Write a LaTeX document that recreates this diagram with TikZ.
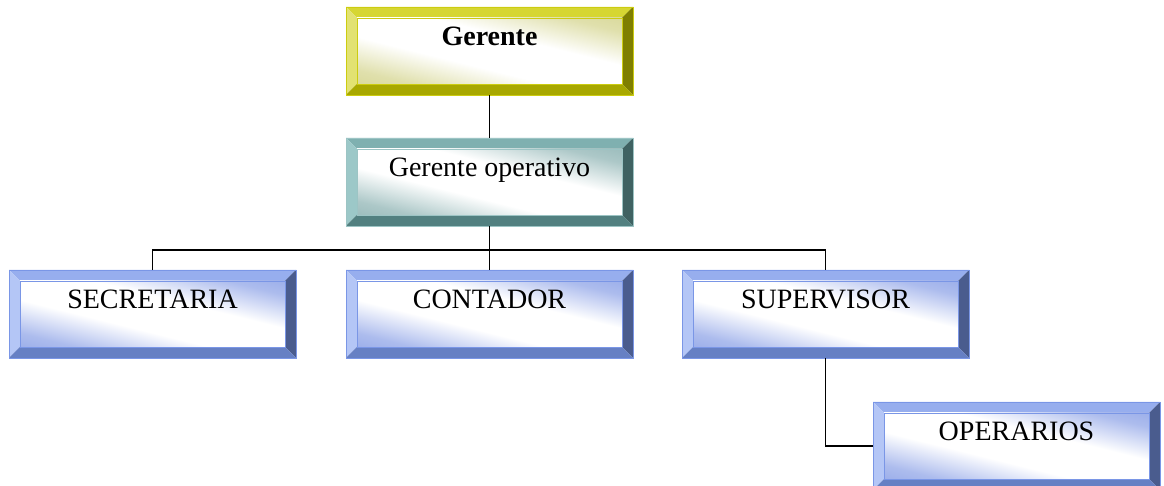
\documentclass[tikz,border=0pt]{standalone}
\usepackage{fontspec}
\setmainfont{Liberation Serif}
\usetikzlibrary{calc}
\definecolor{Ytop}{HTML}{D6D632}\definecolor{Yleft}{HTML}{E2E272}\definecolor{Yright}{HTML}{7F7F00}\definecolor{Ybottom}{HTML}{A8A800}\definecolor{Yface}{HTML}{CFCF80}\definecolor{Yline}{HTML}{CCCC10}
\definecolor{Ttop}{HTML}{7FB0B0}\definecolor{Tleft}{HTML}{9CC8C8}\definecolor{Tright}{HTML}{3F6262}\definecolor{Tbottom}{HTML}{528080}\definecolor{Tface}{HTML}{80AAAA}\definecolor{Tline}{HTML}{9CC4C4}
\definecolor{Btop}{HTML}{97AEEE}\definecolor{Bleft}{HTML}{B4C6F6}\definecolor{Bright}{HTML}{4A5C8E}\definecolor{Bbottom}{HTML}{6680C4}\definecolor{Bface}{HTML}{8098E4}\definecolor{Bline}{HTML}{7A96E6}
\colorlet{facetint}{Bface}
\pgfdeclareverticalshading[facetint]{bevface}{100bp}{color(0bp)=(facetint); color(22bp)=(facetint!65!white); color(40bp)=(white); color(60bp)=(white); color(78bp)=(facetint!65!white); color(100bp)=(facetint)}
\tikzset{
  boxshape/.style={rectangle, minimum width=287pt, minimum height=88pt, inner sep=0pt, outer sep=0pt, anchor=north west},
  conn/.style={line width=1.5pt, black},
  label/.style={anchor=base, inner sep=0pt, font=\fontsize{28}{32}\selectfont}
}
\newcommand\bevbox[6]{%
  \node[boxshape] (#1) at (#2,#3) {};
  \coordinate (a) at (#1.north west);
  \coordinate (b) at (#1.north east);
  \coordinate (c) at (#1.south east);
  \coordinate (d) at (#1.south west);
  \coordinate (ai) at ($(a)+(11,-11)$);
  \coordinate (bi) at ($(b)+(-11,-11)$);
  \coordinate (ci) at ($(c)+(-11,11)$);
  \coordinate (di) at ($(d)+(11,11)$);
  \fill[#5top] (a)--(b)--(bi)--(ai)--cycle;
  \fill[#5left] (a)--(ai)--(di)--(d)--cycle;
  \fill[#5right] (b)--(c)--(ci)--(bi)--cycle;
  \fill[#5bottom] (d)--(di)--(ci)--(c)--cycle;
  \colorlet{facetint}{#5face}
  \begin{scope}[transform canvas={shift={(di)}, xscale=265, yscale=66}]
    \shade[shading=bevface, shading angle=-45] (0,0) rectangle (1,1);
  \end{scope}
  \draw[#5line, line width=0.8pt] (a) rectangle (c);
  \draw[#5line, line width=0.6pt] (ai) rectangle (ci);
  \node[label] (#1t) at ($(a)!0.5!(b)+(0,-39)$) {#6#4};
}
\begin{document}
\begin{tikzpicture}[x=1pt,y=1pt]
\useasboundingbox (0,0) rectangle (1164,486);
\bevbox{ger}{346}{479}{Gerente}{Y}{\bfseries}
\bevbox{op}{346}{348}{Gerente operativo}{T}{}
\bevbox{sec}{9}{216}{SECRETARIA}{B}{}
\bevbox{con}{346}{216}{CONTADOR}{B}{}
\bevbox{sup}{682}{216}{SUPERVISOR}{B}{}
\bevbox{ope}{873}{84}{OPERARIOS}{B}{}
\coordinate (bus) at (489.5,236);
\draw[conn] (ger.south) -- (op.north);
\draw[conn] (op.south) -- (bus);
\draw[conn] (sec.north) -- (sec.north |- bus) -- (sup.north |- bus) -- (sup.north);
\draw[conn] (con.north) -- (con.north |- bus);
\draw[conn] (sup.south) |- (ope.west);
\end{tikzpicture}
\end{document}
